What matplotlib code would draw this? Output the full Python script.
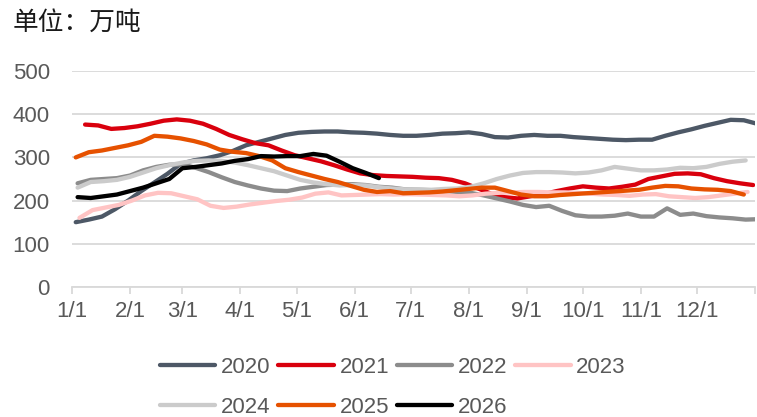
import numpy as np
import matplotlib.pyplot as plt

plt.rcParams['font.family'] = ['Liberation Sans', 'Noto Sans CJK SC', 'DejaVu Sans']

# weekly data, first point's day-of-year, then one value per week (万吨)
start_day = {'2020': 2, '2021': 7, '2022': 3, '2023': 4, '2024': 3, '2025': 2, '2026': 3}

v2020 = [150, 156, 163, 180, 200, 222, 242, 262, 285, 293, 298, 305, 315, 328, 336, 344,
         352, 357, 359, 360, 360, 358, 357, 355, 352, 350, 350, 352, 355, 356, 358, 354,
         347, 346, 350, 352, 350, 350, 347, 345, 343, 341, 340, 341, 341, 350, 358, 365,
         373, 380, 387, 386, 378]
v2021 = [376, 374, 366, 368, 372, 378, 385, 388, 385, 378, 366, 352, 342, 333, 328, 316,
         305, 298, 291, 282, 272, 263, 259, 257, 256, 255, 253, 252, 248, 240, 228, 216,
         208, 205, 210, 215, 222, 228, 233, 230, 228, 232, 237, 250, 256, 262, 263, 261,
         252, 245, 240, 236]
v2022 = [240, 248, 250, 252, 258, 270, 278, 283, 284, 276, 266, 254, 243, 235, 228, 223,
         222, 228, 232, 236, 237, 238, 236, 232, 230, 226, 225, 224, 222, 220, 218, 212,
         205, 198, 190, 185, 188, 176, 166, 163, 163, 165, 170, 163, 163, 182, 167, 170,
         164, 161, 159, 156, 157]
v2023 = [160, 178, 184, 190, 200, 212, 218, 217, 210, 203, 188, 183, 186, 191, 195, 199,
         202, 207, 216, 219, 212, 213, 214, 215, 214, 215, 214, 213, 212, 210, 212, 216,
         218, 219, 220, 220, 219, 219, 218, 216, 214, 213, 211, 214, 215, 210, 208, 206,
         208, 212, 216, 220]
v2024 = [230, 243, 245, 248, 255, 265, 275, 282, 288, 292, 293, 292, 288, 282, 275, 268,
         258, 248, 242, 238, 235, 236, 235, 231, 228, 226, 226, 225, 227, 228, 232, 240,
         250, 258, 264, 266, 266, 265, 263, 265, 270, 278, 274, 270, 270, 272, 276, 275,
         278, 285, 290, 293]
v2025 = [300, 312, 316, 322, 328, 336, 350, 348, 344, 338, 330, 318, 313, 310, 303, 293,
         275, 266, 258, 250, 243, 234, 225, 220, 222, 217, 218, 219, 221, 224, 227, 230,
         230, 222, 214, 210, 210, 213, 215, 217, 219, 221, 223, 225, 230, 234, 233, 228,
         226, 225, 222, 214]
v2026 = [208, 206, 210, 214, 222, 230, 240, 250, 275, 278, 282, 286, 292, 296, 303, 302,
         303, 303, 308, 304, 290, 275, 264, 252]

series = {'2020': v2020, '2021': v2021, '2022': v2022, '2023': v2023,
          '2024': v2024, '2025': v2025, '2026': v2026}
colors = {'2020': '#4d5866', '2021': '#d9000d', '2022': '#8c8c8c', '2023': '#ffc4c4',
          '2024': '#cbcbcb', '2025': '#e65100', '2026': '#000000'}

month_starts = [0, 31, 59, 90, 120, 151, 181, 212, 243, 273, 304, 334]
month_labels = ['1/1', '2/1', '3/1', '4/1', '5/1', '6/1', '7/1', '8/1', '9/1', '10/1', '11/1', '12/1']

fig = plt.figure(figsize=(7.57, 4.17), dpi=100)
ax = fig.add_axes([0.0951, 0.3118, 0.9023, 0.5179])

lines = {}
for name, vals in series.items():
    days = start_day[name] + 7 * np.arange(len(vals))
    lines[name], = ax.plot(days, vals, color=colors[name], lw=3.1, label=name,
                           solid_capstyle='round')

ax.set_xlim(0, 365)
ax.set_ylim(0, 500)
ax.set_yticks(range(0, 501, 100))
ax.yaxis.grid(True, color='#d9d9d9', lw=1.3)
ax.set_axisbelow(True)
ax.set_xticks(month_starts + [365], minor=False)
ax.set_xticklabels(month_labels + [''])
for s in ['top', 'right', 'left']:
    ax.spines[s].set_visible(False)
ax.spines['bottom'].set_color('#d9d9d9')
ax.spines['bottom'].set_linewidth(1.3)
ax.tick_params(axis='x', colors='#d9d9d9', length=5, width=1.3, pad=5,
               labelcolor='#595959', labelsize=16)
ax.tick_params(axis='y', length=0, pad=16, labelcolor='#595959', labelsize=16)

fig.text(0.017, 0.945, '单位：万吨', fontsize=18.5, color='#1a1a1a',
         family=['Noto Sans CJK SC', 'DejaVu Sans'], va='center', ha='left')

order = ['2020', '2024', '2021', '2025', '2022', '2026', '2023']
fig.legend([lines[k] for k in order], order, loc='center', ncol=4,
           bbox_to_anchor=(0.519, 0.071), frameon=False, fontsize=16,
           labelcolor='#595959', handlelength=2.5, handletextpad=0.25,
           columnspacing=0.35, labelspacing=0.87, borderpad=0)

fig.savefig('out.png', dpi=100)
